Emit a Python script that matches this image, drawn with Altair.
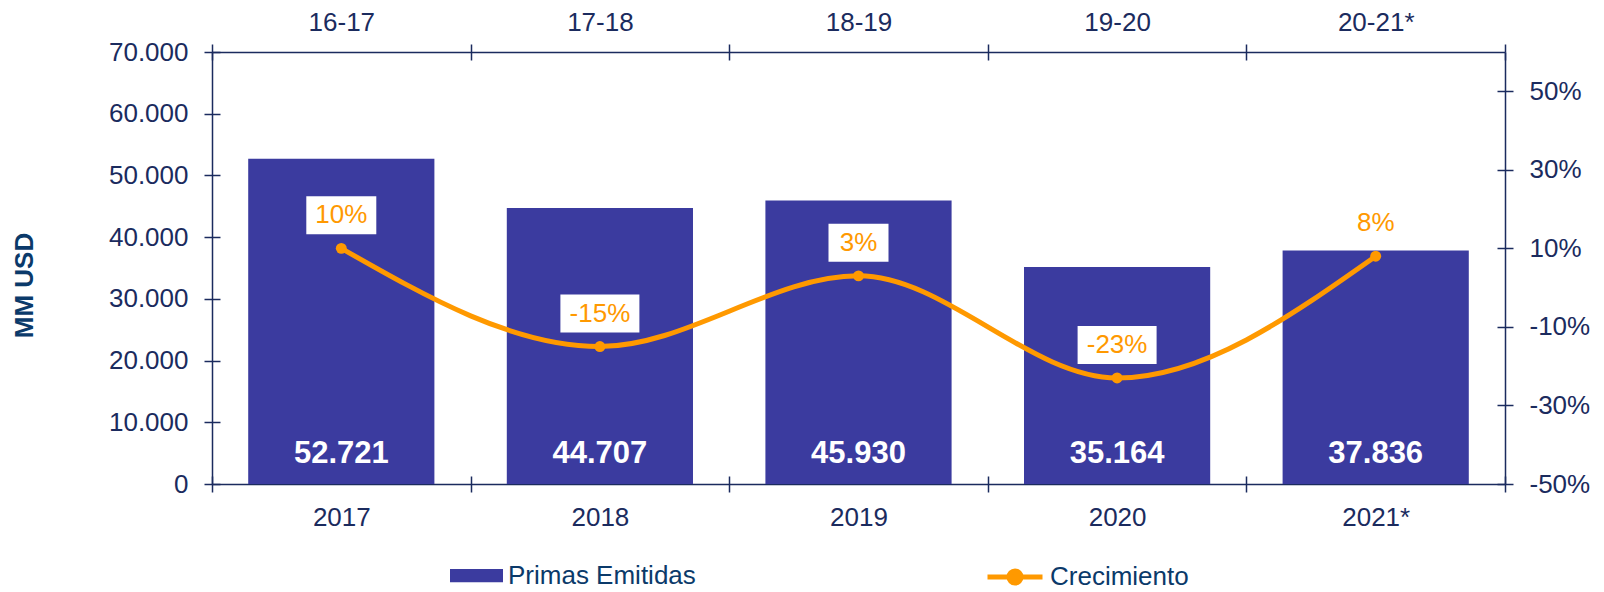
import altair as alt
import pandas as pd

years = ["2017", "2018", "2019", "2020", "2021*"]
periods = ["16-17", "17-18", "18-19", "19-20", "20-21*"]
primas = [52721, 44707, 45930, 35164, 37836]
growth = [10, -15, 3, -23, 8]
left_ticks = [0, 10000, 20000, 30000, 40000, 50000, 60000, 70000]
right_ticks = [-50, -30, -10, 10, 30, 50]

FONT = "Liberation Sans"
BAR = "#3b3b9f"
ORANGE = "#FF9900"
NAVY = "#1b2b5e"
TITLE = "#0b3a6a"

df = pd.DataFrame({
    "year": years,
    "period": periods,
    "primas": primas,
    "growth": growth,
})
df["s1"] = "Primas Emitidas"
df["s2"] = "Crecimiento"

xscale = alt.Scale(paddingInner=0, paddingOuter=0)
yl_scale = alt.Scale(domain=[0, 70000], nice=False)
yr_scale = alt.Scale(domain=[-50, 60], nice=False)
years_js = "[" + ",".join("'%s'" % y for y in years) + "]"
periods_js = "[" + ",".join("'%s'" % p for p in periods) + "]"

axis_common = dict(
    labelFont=FONT, labelFontSize=26, labelColor=NAVY,
    domainColor=NAVY, tickColor=NAVY, domainWidth=1.5, tickWidth=1.5,
    tickSize=8, grid=False, labelAngle=0,
)
# inner half of the crossing ticks (labels and domain off, shifted inward)
inner_common = dict(
    tickColor=NAVY, tickWidth=1.5, tickSize=8, grid=False,
    labels=False, domain=False, title=None, offset=-8,
)

x_bottom = alt.X("year:N", sort=years, scale=xscale,
                 axis=alt.Axis(orient="bottom", title=None, tickBand="extent",
                               labelPadding=12, **axis_common))
x_top = alt.X("year:N", sort=years, scale=xscale,
              axis=alt.Axis(orient="top", title=None, tickBand="extent",
                            labelPadding=9,
                            labelExpr=periods_js + "[indexof(" + years_js + ", datum.label)]",
                            **axis_common))

y_left_axis = alt.Axis(
    orient="left", values=left_ticks, labelPadding=16,
    labelExpr="replace(format(datum.value, ','), ',', '.')",
    title="MM USD", titleFont=FONT, titleFontSize=26, titleFontWeight="bold",
    titleColor=TITLE, titleX=-188, titleY=233, titleAngle=270,
    titleAlign="center", titleBaseline="middle",
    **axis_common)
y_left = alt.Y("primas:Q", scale=yl_scale, axis=y_left_axis, title="MM USD")

y_right_axis = alt.Axis(orient="right", values=right_ticks, labelPadding=16,
                        labelExpr="datum.value + '%'", title=None, **axis_common)
y_right = alt.Y("growth:Q", scale=yr_scale, axis=y_right_axis)

base = alt.Chart(df)

bars = base.mark_bar(color=BAR, width=alt.RelativeBandSize(0.72)).encode(
    x=x_bottom,
    y=y_left,
    color=alt.Color("s1:N", scale=alt.Scale(domain=["Primas Emitidas"], range=[BAR]),
                    legend=alt.Legend(title=None, orient="none", legendX=238, legendY=497,
                                      symbolType="M-1,-0.25H1V0.25H-1Z", symbolSize=2809,
                                      symbolStrokeWidth=0, symbolOpacity=1,
                                      labelFont=FONT, labelFontSize=26, labelColor=TITLE,
                                      labelOffset=5, padding=0, labelLimit=500)),
)

bar_labels = base.mark_text(font=FONT, fontSize=31, fontWeight="bold", color="white",
                            baseline="middle", dy=-30).transform_calculate(
    lbl="replace(format(datum.primas, ','), ',', '.')"
).encode(
    x=x_bottom,
    y=alt.Y(datum=0, type="quantitative", scale=yl_scale, axis=y_left_axis, title="MM USD"),
    text="lbl:N",
)

left = alt.layer(bars, bar_labels)

line = base.mark_line(strokeWidth=5, interpolate="monotone").encode(
    x=x_top,
    y=y_right,
    stroke=alt.Stroke("s2:N", scale=alt.Scale(domain=["Crecimiento"], range=[ORANGE]),
                      legend=alt.Legend(title=None, orient="none", legendX=773, legendY=495,
                                        symbolType="M-1,0H1M0.22,0A0.22,0.22,0,1,1,-0.22,0A0.22,0.22,0,1,1,0.22,0Z",
                                        symbolSize=3025, symbolStrokeWidth=5,
                                        symbolFillColor=ORANGE, symbolOpacity=1,
                                        labelFont=FONT, labelFontSize=26, labelColor=TITLE,
                                        labelOffset=5, padding=0, labelLimit=500)),
)

points = base.mark_circle(size=120, color=ORANGE, opacity=1).encode(x=x_top, y=y_right)

glabel = base.transform_calculate(glbl="datum.growth + '%'", n="length(datum.growth + '%')")

box_specs = [(2, 60), (3, 70), (4, 79)]
boxes = []
for n, w in box_specs:
    h = 38.0
    r = h / w
    path = "M-1,-%.4fH1V%.4fH-1Z" % (r, r)
    boxes.append(
        glabel.transform_filter("datum.n == %d" % n).mark_point(
            shape=path, size=w * w, filled=True, color="white", opacity=1, yOffset=-33
        ).encode(x=x_top, y=y_right)
    )

gtext = glabel.mark_text(font=FONT, fontSize=26, color=ORANGE, baseline="middle", dy=-33).encode(
    x=x_top, y=y_right, text="glbl:N"
)

right = alt.layer(line, points, *boxes, gtext)

# invisible layers that only carry the inner halves of the crossing ticks
inner_left = base.mark_point(opacity=0).encode(
    x=alt.X("year:N", sort=years, scale=xscale,
            axis=alt.Axis(orient="bottom", tickBand="extent", **inner_common)),
    y=alt.Y("primas:Q", scale=yl_scale,
            axis=alt.Axis(orient="left", values=left_ticks, **inner_common)),
)
inner_right = base.mark_point(opacity=0).encode(
    x=alt.X("year:N", sort=years, scale=xscale,
            axis=alt.Axis(orient="top", tickBand="extent", **inner_common)),
    y=alt.Y("growth:Q", scale=yr_scale,
            axis=alt.Axis(orient="right", values=right_ticks, **inner_common)),
)

chart = alt.layer(left, right, inner_left, inner_right).resolve_scale(y="independent").resolve_axis(
    x="independent", y="independent"
).properties(
    width=1293, height=432,
    autosize=alt.AutoSizeParams(type="none"),
    padding={"left": 204, "top": 44, "right": 91, "bottom": 108},
).configure_view(stroke=None)

chart.save("out.html", embed_options={"renderer": "svg", "actions": False})
